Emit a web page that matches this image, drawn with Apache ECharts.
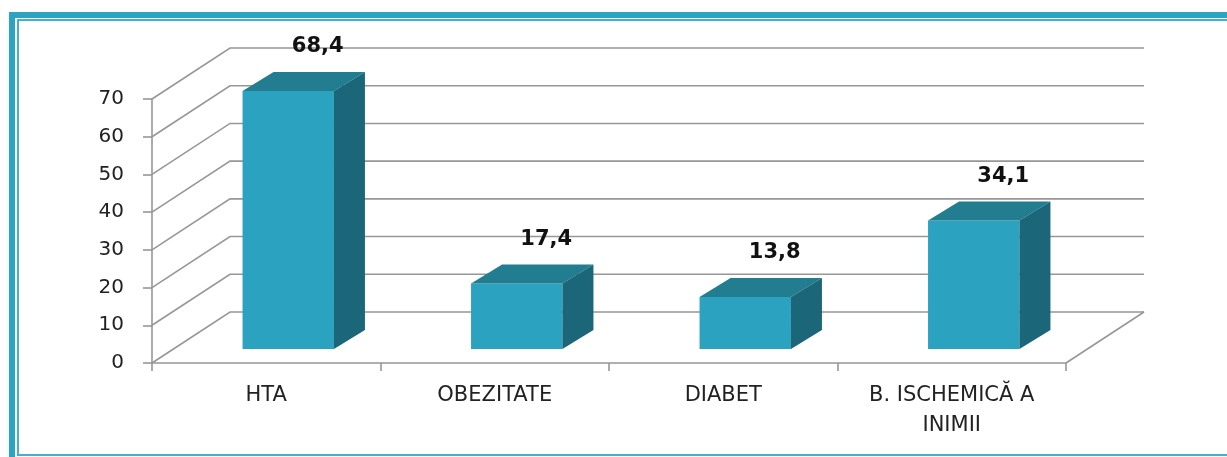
<!DOCTYPE html>
<html>
<head>
<meta charset="utf-8">
<script src="https://cdn.jsdelivr.net/npm/echarts@6/dist/echarts.min.js"></script>
<style>
  html, body { margin: 0; padding: 0; background: #ffffff; }
  #chart { width: 1227px; height: 457px; }
</style>
</head>
<body>
<div id="chart"></div>
<script>
const categories = ['HTA', 'OBEZITATE', 'DIABET', 'B. ISCHEMICĂ A\nINIMII'];
const values = [68.4, 17.4, 13.8, 34.1];
const valueLabels = ['68,4', '17,4', '13,8', '34,1'];
const yTicks = [0, 10, 20, 30, 40, 50, 60, 70];

// pseudo-3D geometry (pixels)
const DX = 78, DY = -51;      // full depth of the floor / back wall
const FX = 22, FY = -14;      // bar front-face offset into the depth
const BDX = 31, BDY = -19;    // bar depth
const GRID_COLOR = '#979797';
const FRONT = '#2BA2C0', TOP = '#237D90', SIDE = '#1C6679';

const chart = echarts.init(document.getElementById('chart'), null, { renderer: 'canvas' });

const option = {
  animation: false,
  backgroundColor: '#ffffff',
  grid: { left: 152, right: 161, top: 99, bottom: 94 },
  graphic: [
    { type: 'rect', z: 100, shape: { x: 12, y: 15, width: 1250, height: 470 },
      style: { fill: null, stroke: '#2BA3C2', lineWidth: 6 } },
    { type: 'rect', z: 100, shape: { x: 18, y: 20, width: 1250, height: 435 },
      style: { fill: null, stroke: '#45B0CC', lineWidth: 2 } }
  ],
  xAxis: {
    type: 'category',
    data: categories,
    boundaryGap: true,
    axisLine: { show: true, lineStyle: { color: GRID_COLOR, width: 1.6 } },
    axisTick: { show: true, length: 8, lineStyle: { color: GRID_COLOR, width: 1.6 } },
    axisLabel: {
      margin: 18, color: '#222', fontFamily: 'DejaVu Sans', fontSize: 21,
      lineHeight: 30, interval: 0
    },
    splitLine: { show: false }
  },
  yAxis: {
    type: 'value',
    min: 0, max: 70, interval: 10,
    axisLine: { show: true, lineStyle: { color: GRID_COLOR, width: 1.6 } },
    axisTick: { show: true, length: 9, lineStyle: { color: GRID_COLOR, width: 1.6 } },
    axisLabel: { margin: 28, color: '#222', fontFamily: 'DejaVu Sans', fontSize: 20 },
    splitLine: { show: false }
  },
  series: [
    {
      type: 'custom',
      name: 'walls',
      z: 1,
      clip: false,
      silent: true,
      data: yTicks.map(v => [0, v]),
      renderItem: function (params, api) {
        const cs = params.coordSys;
        const v = api.value(1);
        const y = api.coord([0, v])[1];
        const x0 = cs.x, x1 = cs.x + cs.width;
        const st = { stroke: GRID_COLOR, lineWidth: 1.6, fill: null };
        const children = [{
          type: 'polyline',
          shape: { points: [[x0, y], [x0 + DX, y + DY], [x1 + DX, y + DY]] },
          style: st
        }];
        if (v === 0) {
          children.push({ type: 'line', shape: { x1: x1, y1: y, x2: x1 + DX, y2: y + DY }, style: st });
        }
        return { type: 'group', children: children };
      }
    },
    {
      type: 'custom',
      name: 'bars',
      z: 3,
      clip: false,
      data: values.map((v, i) => [i, v]),
      renderItem: function (params, api) {
        const i = api.value(0), v = api.value(1);
        const topPt = api.coord([i, v]);
        const basePt = api.coord([i, 0]);
        const bw = api.size([1, 0])[0];
        const w = bw * 0.40;
        const L = topPt[0] + FX - w / 2, R = L + w;
        const T = topPt[1] + FY, B = basePt[1] + FY;
        return {
          type: 'group',
          children: [
            { type: 'rect', shape: { x: L, y: T, width: w, height: B - T }, style: { fill: FRONT } },
            { type: 'polygon', shape: { points: [[L, T], [L + BDX, T + BDY], [R + BDX, T + BDY], [R, T]] }, style: { fill: TOP } },
            { type: 'polygon', shape: { points: [[R, T], [R + BDX, T + BDY], [R + BDX, B + BDY], [R, B]] }, style: { fill: SIDE } },
            { type: 'text', style: {
                text: valueLabels[i], x: (L + R) / 2 + BDX / 2 + 14, y: T + BDY - 25,
                align: 'center', verticalAlign: 'middle', fill: '#111',
                font: 'bold 21px "DejaVu Sans"'
              } }
          ]
        };
      }
    }
  ]
};

chart.setOption(option);
</script>
</body>
</html>
